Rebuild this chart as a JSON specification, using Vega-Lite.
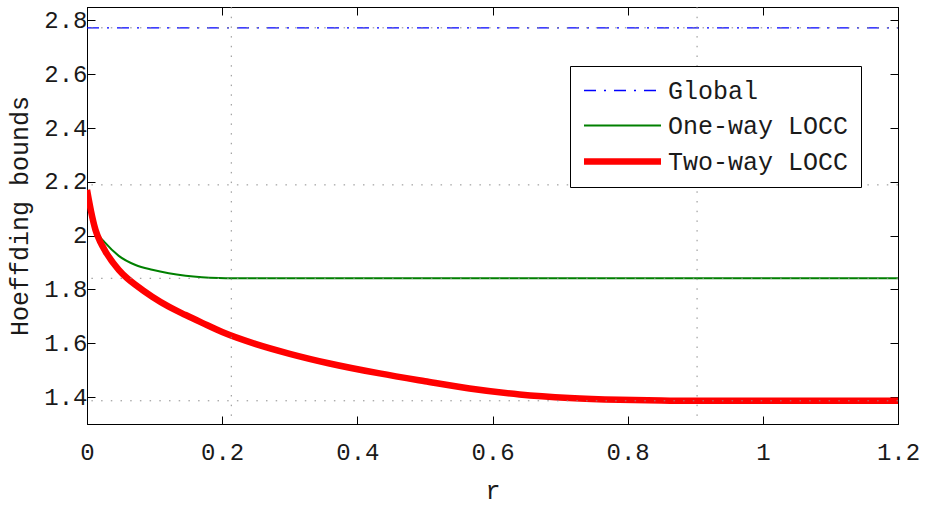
{
  "$schema": "https://vega.github.io/schema/vega-lite/v6.json",
  "width": 811,
  "height": 417,
  "autosize": {"type": "none"},
  "padding": {"left": 87, "top": 7, "right": 28, "bottom": 86},
  "background": "white",
  "config": {
    "view": {"stroke": "black", "strokeWidth": 1},
    "axis": {
      "labelFont": "Liberation Mono",
      "labelFontSize": 24,
      "labelColor": "#1a1a1a",
      "labelFlush": false,
      "titleFont": "Liberation Mono",
      "titleFontSize": 25,
      "titleFontWeight": "normal",
      "titleColor": "#1a1a1a",
      "domainColor": "black",
      "tickColor": "black",
      "tickSize": -8,
      "grid": false
    },
    "legend": {
      "orient": "none", "legendX": 483, "legendY": 59,
      "symbolType": "stroke", "symbolSize": 237, "symbolOffset": 28,
      "labelFont": "Liberation Mono", "labelFontSize": 25, "labelColor": "#1a1a1a", "labelLimit": 400,
      "strokeColor": "black", "fillColor": "white", "padding": 12,
      "labelOffset": 33, "rowPadding": 9
    }
  },
  "datasets": {
    "curves": [
      {"r": 0, "bound": 2.7726, "series": "Global"},
      {"r": 1.2, "bound": 2.7726, "series": "Global"},
      {"r": 0, "bound": 2.17, "series": "One-way LOCC"},
      {"r": 0.0027, "bound": 2.133, "series": "One-way LOCC"},
      {"r": 0.006, "bound": 2.09, "series": "One-way LOCC"},
      {"r": 0.0126, "bound": 2.03, "series": "One-way LOCC"},
      {"r": 0.0175, "bound": 2.003, "series": "One-way LOCC"},
      {"r": 0.0274, "bound": 1.972, "series": "One-way LOCC"},
      {"r": 0.047, "bound": 1.925, "series": "One-way LOCC"},
      {"r": 0.0718, "bound": 1.891, "series": "One-way LOCC"},
      {"r": 0.0965, "bound": 1.873, "series": "One-way LOCC"},
      {"r": 0.121, "bound": 1.86, "series": "One-way LOCC"},
      {"r": 0.146, "bound": 1.851, "series": "One-way LOCC"},
      {"r": 0.17, "bound": 1.8455, "series": "One-way LOCC"},
      {"r": 0.195, "bound": 1.8425, "series": "One-way LOCC"},
      {"r": 0.2135, "bound": 1.8416, "series": "One-way LOCC"},
      {"r": 1.2, "bound": 1.8416, "series": "One-way LOCC"},
      {"r": 0, "bound": 2.17, "series": "Two-way LOCC"},
      {"r": 0.0027, "bound": 2.133, "series": "Two-way LOCC"},
      {"r": 0.006, "bound": 2.09, "series": "Two-way LOCC"},
      {"r": 0.0126, "bound": 2.021, "series": "Two-way LOCC"},
      {"r": 0.02, "bound": 1.975, "series": "Two-way LOCC"},
      {"r": 0.0274, "bound": 1.941, "series": "Two-way LOCC"},
      {"r": 0.047, "bound": 1.873, "series": "Two-way LOCC"},
      {"r": 0.0595, "bound": 1.8416, "series": "Two-way LOCC"},
      {"r": 0.0718, "bound": 1.817, "series": "Two-way LOCC"},
      {"r": 0.0965, "bound": 1.773, "series": "Two-way LOCC"},
      {"r": 0.121, "bound": 1.736, "series": "Two-way LOCC"},
      {"r": 0.146, "bound": 1.705, "series": "Two-way LOCC"},
      {"r": 0.1705, "bound": 1.676, "series": "Two-way LOCC"},
      {"r": 0.2, "bound": 1.642, "series": "Two-way LOCC"},
      {"r": 0.25, "bound": 1.597, "series": "Two-way LOCC"},
      {"r": 0.3, "bound": 1.561, "series": "Two-way LOCC"},
      {"r": 0.359, "bound": 1.525, "series": "Two-way LOCC"},
      {"r": 0.433, "bound": 1.488, "series": "Two-way LOCC"},
      {"r": 0.5, "bound": 1.459, "series": "Two-way LOCC"},
      {"r": 0.566, "bound": 1.432, "series": "Two-way LOCC"},
      {"r": 0.64, "bound": 1.41, "series": "Two-way LOCC"},
      {"r": 0.714, "bound": 1.397, "series": "Two-way LOCC"},
      {"r": 0.788, "bound": 1.39, "series": "Two-way LOCC"},
      {"r": 0.85, "bound": 1.387, "series": "Two-way LOCC"},
      {"r": 0.9027, "bound": 1.3863, "series": "Two-way LOCC"},
      {"r": 1.2, "bound": 1.3863, "series": "Two-way LOCC"}
    ],
    "vgrid": [{"r": 0.2135}, {"r": 0.9027}],
    "hgrid": [{"bound": 1.3863}, {"bound": 1.8416}, {"bound": 2.1888}, {"bound": 2.7726}]
  },
  "layer": [
    {
      "data": {"name": "curves"},
      "layer": [
        {
          "transform": [{"filter": "datum.series === 'Global'"}],
          "mark": {"type": "line", "clip": true, "strokeWidth": 1.3, "strokeDash": [12, 8, 2, 8]}
        },
        {
          "transform": [{"filter": "datum.series === 'One-way LOCC'"}],
          "mark": {"type": "line", "interpolate": "monotone", "clip": true, "strokeWidth": 2}
        },
        {
          "transform": [{"filter": "datum.series === 'Two-way LOCC'"}],
          "mark": {"type": "line", "interpolate": "monotone", "clip": true, "strokeWidth": 6.5}
        }
      ],
      "encoding": {
        "x": {
          "field": "r", "type": "quantitative",
          "scale": {"domain": [0, 1.2], "nice": false, "zero": false},
          "axis": {"orient": "bottom", "values": [0, 0.2, 0.4, 0.6, 0.8, 1, 1.2], "format": "~g", "title": "r", "labelPadding": 24, "titlePadding": 14}
        },
        "y": {
          "field": "bound", "type": "quantitative",
          "scale": {"domain": [1.3, 2.85], "nice": false, "zero": false},
          "axis": {"orient": "left", "values": [1.4, 1.6, 1.8, 2, 2.2, 2.4, 2.6, 2.8], "format": "~g", "title": "Hoeffding bounds", "labelPadding": 8, "titlePadding": 11}
        },
        "color": {
          "field": "series", "type": "nominal",
          "scale": {"domain": ["Global", "One-way LOCC", "Two-way LOCC"], "range": ["#0000ff", "#008000", "#ff0000"]},
          "legend": {
            "title": null,
            "encode": {
              "symbols": {
                "update": {
                  "size": {"value": 5929},
                  "strokeWidth": {"signal": "datum.value === 'Two-way LOCC' ? 6.5 : datum.value === 'One-way LOCC' ? 2 : 1.3"},
                  "strokeDash": {"signal": "datum.value === 'Global' ? [12, 8, 2, 8] : [1, 0]"}
                }
              }
            }
          }
        }
      }
    },
    {
      "data": {"name": "vgrid"},
      "mark": {"type": "rule", "color": "#8c8c8c", "strokeWidth": 1, "strokeDash": [1.5, 8.2]},
      "encoding": {
        "x": {
          "field": "r", "type": "quantitative",
          "scale": {"domain": [0, 1.2], "nice": false, "zero": false},
          "axis": {"orient": "top", "values": [0, 0.2, 0.4, 0.6, 0.8, 1, 1.2], "labels": false, "title": null}
        }
      }
    },
    {
      "data": {"name": "hgrid"},
      "mark": {"type": "rule", "color": "#8c8c8c", "strokeWidth": 1, "strokeDash": [1.5, 8.2]},
      "encoding": {
        "y": {
          "field": "bound", "type": "quantitative",
          "scale": {"domain": [1.3, 2.85], "nice": false, "zero": false},
          "axis": {"orient": "right", "values": [1.4, 1.6, 1.8, 2, 2.2, 2.4, 2.6, 2.8], "labels": false, "title": null}
        }
      }
    }
  ],
  "resolve": {"scale": {"x": "independent", "y": "independent"}}
}
